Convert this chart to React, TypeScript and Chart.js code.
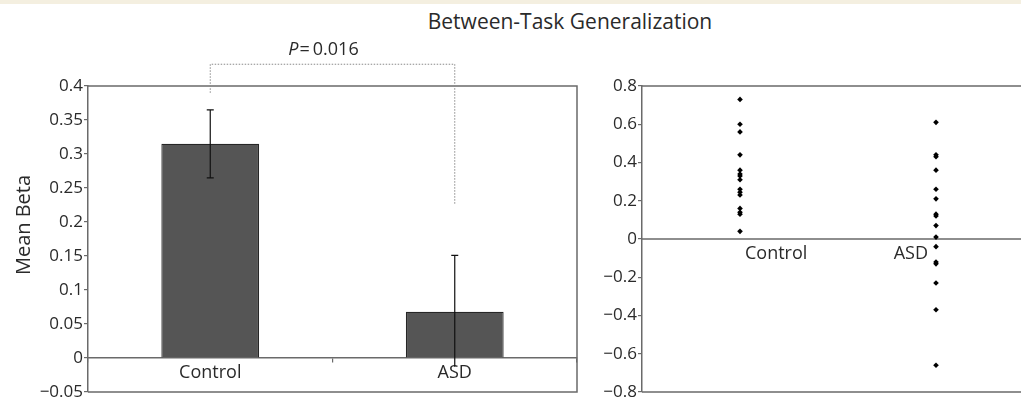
import React, { useEffect, useRef } from "react";
import { Chart, registerables } from "chart.js";

Chart.register(...registerables);

const FONT = "'Open Sans', 'DejaVu Sans', sans-serif";
const TEXT = "#2a2a2a";
const LINE = "#6a6a6a";

const TITLE = "Between-Task Generalization";
const groups = ["Control", "ASD"];
const meanBeta = [0.315, 0.068];
const errUp = [0.05, 0.083];
const errDown = [0.05, 0.081];
const pValue = "0.016";
// bracket: top level, end of left drop, end of right drop (y values)
const bracketLevels = [0.432, 0.39, 0.226];

const leftY = { min: -0.05, max: 0.4, step: 0.05 };
const rightY = { min: -0.8, max: 0.8, step: 0.2 };

const controlScores = [0.73, 0.6, 0.56, 0.44, 0.36, 0.34, 0.33, 0.31, 0.26, 0.245, 0.23, 0.16, 0.14, 0.13, 0.04];
const asdScores = [0.61, 0.44, 0.43, 0.36, 0.26, 0.21, 0.13, 0.12, 0.07, 0.01, -0.04, -0.12, -0.13, -0.23, -0.37, -0.66];
const groupX = [1, 3];
const rightX = { min: 0, max: 4 };

const fmt = (v: number, d: number) => {
  const s = Number(v.toFixed(d)).toString();
  return s.replace("-", "\u2212");
};

function LeftChart() {
  const ref = useRef<HTMLCanvasElement>(null);
  useEffect(() => {
    const overlay = {
      id: "leftOverlay",
      afterDatasetsDraw(chart: any) {
        const { ctx, chartArea: a, scales } = chart;
        const x = scales.x;
        const y = scales.y;
        ctx.save();
        // plot box (top, right, bottom)
        ctx.strokeStyle = LINE;
        ctx.lineWidth = 1.5;
        ctx.beginPath();
        ctx.moveTo(a.left, a.top);
        ctx.lineTo(a.right, a.top);
        ctx.lineTo(a.right, a.bottom);
        ctx.lineTo(a.left, a.bottom);
        ctx.stroke();
        // error bars
        ctx.strokeStyle = "#111";
        ctx.lineWidth = 1.2;
        meanBeta.forEach((m, i) => {
          const px = x.getPixelForValue(i);
          const yt = y.getPixelForValue(m + errUp[i]);
          const yb = y.getPixelForValue(m - errDown[i]);
          ctx.beginPath();
          ctx.moveTo(px, yt);
          ctx.lineTo(px, yb);
          ctx.moveTo(px - 3.5, yt);
          ctx.lineTo(px + 3.5, yt);
          if (i === 0) {
            ctx.moveTo(px - 3.5, yb);
            ctx.lineTo(px + 3.5, yb);
          }
          ctx.stroke();
        });
        // significance bracket
        const xl = x.getPixelForValue(0);
        const xr = x.getPixelForValue(1);
        const yTop = y.getPixelForValue(bracketLevels[0]);
        ctx.strokeStyle = "#8a8a8a";
        ctx.lineWidth = 1;
        ctx.setLineDash([1.5, 1.5]);
        ctx.beginPath();
        ctx.moveTo(xl, y.getPixelForValue(bracketLevels[1]));
        ctx.lineTo(xl, yTop);
        ctx.lineTo(xr, yTop);
        ctx.lineTo(xr, y.getPixelForValue(bracketLevels[2]));
        ctx.stroke();
        ctx.setLineDash([]);
        // P label
        ctx.fillStyle = TEXT;
        ctx.textBaseline = "middle";
        ctx.textAlign = "left";
        const cx = (xl + xr) / 2 - 9;
        ctx.font = `italic 18px ${FONT}`;
        const pW = ctx.measureText("P").width;
        ctx.font = `18px ${FONT}`;
        const eqW = ctx.measureText("=").width;
        const vW = ctx.measureText(pValue).width;
        const total = pW + 1 + eqW + 3 + vW;
        let sx = cx - total / 2;
        const ty = yTop - 14;
        ctx.font = `italic 18px ${FONT}`;
        ctx.fillText("P", sx, ty);
        sx += pW + 1;
        ctx.font = `18px ${FONT}`;
        ctx.fillText("=", sx, ty);
        sx += eqW + 3;
        ctx.fillText(pValue, sx, ty);
        // y axis title
        ctx.save();
        ctx.translate(24, (a.top + a.bottom) / 2 - 14);
        ctx.rotate(-Math.PI / 2);
        ctx.textAlign = "center";
        ctx.font = `20px ${FONT}`;
        ctx.fillText("Mean Beta", 0, 0);
        ctx.restore();
        ctx.restore();
      },
    };
    const chart = new Chart(ref.current!, {
      type: "bar",
      data: {
        labels: groups,
        datasets: [
          {
            data: meanBeta,
            backgroundColor: "#555555",
            borderColor: "#262626",
            borderWidth: 1.2,
            barPercentage: 0.5,
            categoryPercentage: 0.8,
          },
        ],
      },
      options: {
        responsive: false,
        animation: false,
        devicePixelRatio: 1,
        layout: { padding: { left: 0, right: 13, top: 86, bottom: 10 } },
        plugins: { legend: { display: false }, tooltip: { enabled: false } },
        scales: {
          x: {
            type: "category",
            position: { y: 0 } as any,
            offset: true,
            grid: { offset: true, drawOnChartArea: false, drawTicks: true, tickLength: 4, color: LINE, lineWidth: 1.2 },
            border: { display: true, color: LINE, width: 1.5 },
            ticks: { color: TEXT, font: { family: FONT, size: 18 }, padding: 0, maxRotation: 0 },
          },
          y: {
            min: leftY.min,
            max: leftY.max,
            afterFit: (s: any) => {
              s.width = 88;
            },
            ticks: {
              stepSize: leftY.step,
              color: TEXT,
              font: { family: FONT, size: 17, lineHeight: 1 },
              padding: 1,
              callback: (v: any) => fmt(Number(v), 2),
            },
            grid: { drawOnChartArea: false, drawTicks: true, tickLength: 4, color: LINE, lineWidth: 1.2 },
            border: { display: true, color: LINE, width: 1.5 },
          },
        },
      },
      plugins: [overlay],
    });
    return () => chart.destroy();
  }, []);
  return (
    <canvas
      ref={ref}
      width={590}
      height={402}
      style={{ position: "absolute", left: 0, top: 0, width: 590, height: 402 }}
    />
  );
}

function RightChart() {
  const ref = useRef<HTMLCanvasElement>(null);
  useEffect(() => {
    const overlay = {
      id: "rightOverlay",
      beforeDatasetsDraw(chart: any) {
        const { ctx, chartArea: a, scales } = chart;
        const y = scales.y;
        ctx.save();
        ctx.strokeStyle = LINE;
        ctx.lineWidth = 1.5;
        ctx.beginPath();
        ctx.moveTo(a.left, a.top);
        ctx.lineTo(a.right, a.top);
        ctx.moveTo(a.left, a.bottom);
        ctx.lineTo(a.right, a.bottom);
        const y0 = y.getPixelForValue(0);
        ctx.moveTo(a.left, y0);
        ctx.lineTo(a.right, y0);
        ctx.stroke();
        ctx.restore();
      },
      afterDatasetsDraw(chart: any) {
        const { ctx, scales } = chart;
        const x = scales.x;
        const y = scales.y;
        const y0 = y.getPixelForValue(0);
        ctx.save();
        ctx.fillStyle = TEXT;
        ctx.font = `18px ${FONT}`;
        ctx.textBaseline = "middle";
        ctx.textAlign = "left";
        ctx.fillText(groups[0], x.getPixelForValue(groupX[0]) + 5, y0 + 15);
        ctx.textAlign = "right";
        ctx.fillText(groups[1], x.getPixelForValue(groupX[1]) - 8, y0 + 15);
        ctx.restore();
      },
    };
    const chart = new Chart(ref.current!, {
      type: "scatter",
      data: {
        datasets: [
          {
            data: controlScores.map((v) => ({ x: groupX[0], y: v })),
            pointStyle: "rectRot",
            pointRadius: 2.8,
            backgroundColor: "#000",
            borderColor: "#000",
            borderWidth: 0,
          },
          {
            data: asdScores.map((v) => ({ x: groupX[1], y: v })),
            pointStyle: "rectRot",
            pointRadius: 2.8,
            backgroundColor: "#000",
            borderColor: "#000",
            borderWidth: 0,
          },
        ],
      },
      options: {
        responsive: false,
        animation: false,
        devicePixelRatio: 1,
        layout: { padding: { left: 0, right: 6, top: 86, bottom: 10 } },
        plugins: { legend: { display: false }, tooltip: { enabled: false } },
        scales: {
          x: {
            type: "linear",
            min: rightX.min,
            max: rightX.max,
            display: false,
          },
          y: {
            min: rightY.min,
            max: rightY.max,
            afterFit: (s: any) => {
              s.width = 42;
            },
            ticks: {
              stepSize: rightY.step,
              color: TEXT,
              font: { family: FONT, size: 17, lineHeight: 1 },
              padding: 1,
              callback: (v: any) => fmt(Number(v), 1),
            },
            grid: { drawOnChartArea: false, drawTicks: true, tickLength: 4, color: LINE, lineWidth: 1.2 },
            border: { display: true, color: LINE, width: 1.5 },
          },
        },
      },
      plugins: [overlay],
    });
    return () => chart.destroy();
  }, []);
  return (
    <canvas
      ref={ref}
      width={440}
      height={402}
      style={{ position: "absolute", left: 600, top: 0, width: 440, height: 402 }}
    />
  );
}

export default function App() {
  return (
    <div
      style={{
        position: "fixed",
        left: 0,
        top: 0,
        width: 1021,
        height: 402,
        overflow: "hidden",
        background: "#ffffff",
      }}
    >
      <div style={{ position: "absolute", left: 0, top: 0, width: 1021, height: 4, background: "#f4efe0" }} />
      <div
        style={{
          position: "absolute",
          left: 570,
          top: 9,
          transform: "translateX(-50%)",
          whiteSpace: "nowrap",
          fontFamily: FONT,
          fontSize: 21,
          lineHeight: "24px",
          color: TEXT,
        }}
      >
        {TITLE}
      </div>
      <LeftChart />
      <RightChart />
    </div>
  );
}
